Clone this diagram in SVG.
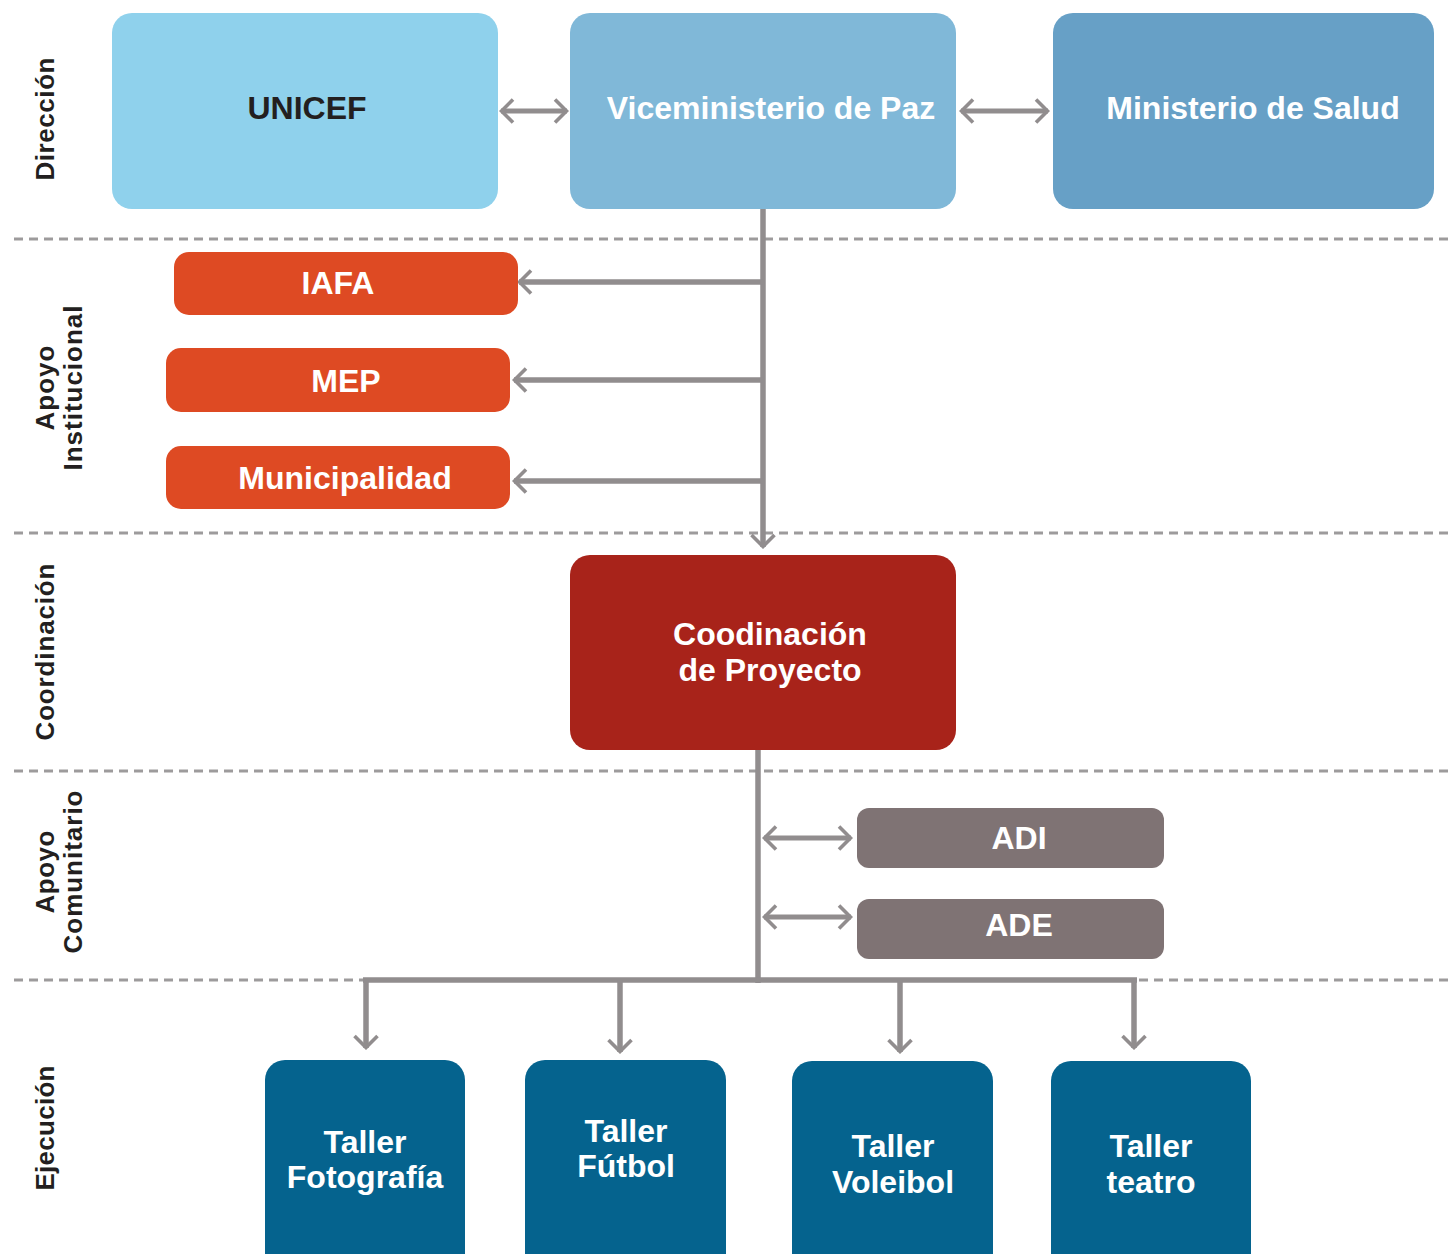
<svg xmlns="http://www.w3.org/2000/svg" width="1451" height="1254" viewBox="0 0 1451 1254">
<defs>
<style>
.t{font-family:"Liberation Sans",Arial,sans-serif;font-weight:bold;font-size:32px;fill:#fff;text-anchor:middle}
.side{font-family:"Liberation Sans",Arial,sans-serif;font-weight:bold;font-size:26px;fill:#231f20;text-anchor:middle}
.dash{stroke:#9d9b9c;stroke-width:3;stroke-dasharray:9 6;fill:none}
.c{stroke:#918d8e;stroke-width:5.5;fill:none}
.c2{stroke:#918d8e;stroke-width:5;fill:none}
</style>
<marker id="ah" markerUnits="userSpaceOnUse" viewBox="0 0 16 26" refX="14" refY="13" markerWidth="16" markerHeight="26" orient="auto-start-reverse">
<path d="M2,1.5 L13.5,13 L2,24.5" fill="none" stroke="#918d8e" stroke-width="3.6"/>
</marker>
</defs>
<rect width="1451" height="1254" fill="#fff"/>

<g id="bands">
<line class="dash" x1="14" y1="239" x2="1451" y2="239"/>
<line class="dash" x1="14" y1="533" x2="1451" y2="533"/>
<line class="dash" x1="14" y1="771" x2="1451" y2="771"/>
<line class="dash" x1="14" y1="980" x2="1451" y2="980"/>
</g>

<g id="lane-labels">
<text class="side" transform="translate(54,119) rotate(-90)" textLength="123">Dirección</text>
<text class="side" transform="translate(54,388) rotate(-90)" textLength="85">Apoyo</text>
<text class="side" transform="translate(82,388) rotate(-90)" textLength="165">Institucional</text>
<text class="side" transform="translate(54,652) rotate(-90)" textLength="177">Coordinación</text>
<text class="side" transform="translate(54,872) rotate(-90)" textLength="83">Apoyo</text>
<text class="side" transform="translate(82,872) rotate(-90)" textLength="163">Comunitario</text>
<text class="side" transform="translate(54,1128) rotate(-90)" textLength="125">Ejecución</text>
</g>

<g id="connectors">
<line class="c" x1="763" y1="209" x2="763" y2="547" marker-end="url(#ah)"/>
<line class="c" x1="763" y1="282" x2="519" y2="282" marker-end="url(#ah)"/>
<line class="c" x1="763" y1="380" x2="514" y2="380" marker-end="url(#ah)"/>
<line class="c" x1="763" y1="481" x2="514" y2="481" marker-end="url(#ah)"/>
<line class="c2" x1="501" y1="111" x2="567" y2="111" marker-start="url(#ah)" marker-end="url(#ah)"/>
<line class="c2" x1="961" y1="111" x2="1048" y2="111" marker-start="url(#ah)" marker-end="url(#ah)"/>
<line class="c" x1="758" y1="750" x2="758" y2="983"/>
<line class="c2" x1="764" y1="838" x2="851" y2="838" marker-start="url(#ah)" marker-end="url(#ah)"/>
<line class="c2" x1="764" y1="917" x2="851" y2="917" marker-start="url(#ah)" marker-end="url(#ah)"/>
<line class="c" x1="363" y1="980" x2="1137" y2="980"/>
<line class="c" x1="366" y1="980" x2="366" y2="1048" marker-end="url(#ah)"/>
<line class="c" x1="620" y1="980" x2="620" y2="1052" marker-end="url(#ah)"/>
<line class="c" x1="900" y1="980" x2="900" y2="1052" marker-end="url(#ah)"/>
<line class="c" x1="1134" y1="980" x2="1134" y2="1048" marker-end="url(#ah)"/>
</g>

<g id="unicef">
<rect x="112" y="13" width="386" height="196" rx="20" fill="#8fd1ec"/>
<text class="t" x="307" y="119" style="fill:#231f20">UNICEF</text>
</g>
<g id="viceministerio">
<rect x="570" y="13" width="386" height="196" rx="20" fill="#80b8d8"/>
<text class="t" x="771" y="119">Viceministerio de Paz</text>
</g>
<g id="ministerio-salud">
<rect x="1053" y="13" width="381" height="196" rx="20" fill="#67a0c6"/>
<text class="t" x="1253" y="119">Ministerio de Salud</text>
</g>

<g id="iafa">
<rect x="174" y="252" width="344" height="63" rx="15" fill="#de4a23"/>
<text class="t" x="338" y="294">IAFA</text>
</g>
<g id="mep">
<rect x="166" y="348" width="344" height="64" rx="15" fill="#de4a23"/>
<text class="t" x="346" y="392">MEP</text>
</g>
<g id="municipalidad">
<rect x="166" y="446" width="344" height="63" rx="15" fill="#de4a23"/>
<text class="t" x="345" y="489">Municipalidad</text>
</g>

<g id="coordinacion">
<rect x="570" y="555" width="386" height="195" rx="20" fill="#a8231a"/>
<text class="t" x="770" y="645">Coodinación</text>
<text class="t" x="770" y="681">de Proyecto</text>
</g>

<g id="adi">
<rect x="857" y="808" width="307" height="60" rx="12" fill="#7f7374"/>
<text class="t" x="1019" y="849">ADI</text>
</g>
<g id="ade">
<rect x="857" y="899" width="307" height="60" rx="12" fill="#7f7374"/>
<text class="t" x="1019" y="936">ADE</text>
</g>

<g id="taller-fotografia">
<rect x="265" y="1060" width="200" height="230" rx="20" fill="#05638e"/>
<text class="t" x="365" y="1153">Taller</text>
<text class="t" x="365" y="1188">Fotografía</text>
</g>
<g id="taller-futbol">
<rect x="525" y="1060" width="201" height="230" rx="20" fill="#05638e"/>
<text class="t" x="626" y="1142">Taller</text>
<text class="t" x="626" y="1177">Fútbol</text>
</g>
<g id="taller-voleibol">
<rect x="792" y="1061" width="201" height="230" rx="20" fill="#05638e"/>
<text class="t" x="893" y="1157">Taller</text>
<text class="t" x="893" y="1193">Voleibol</text>
</g>
<g id="taller-teatro">
<rect x="1051" y="1061" width="200" height="230" rx="20" fill="#05638e"/>
<text class="t" x="1151" y="1157">Taller</text>
<text class="t" x="1151" y="1193">teatro</text>
</g>
</svg>
